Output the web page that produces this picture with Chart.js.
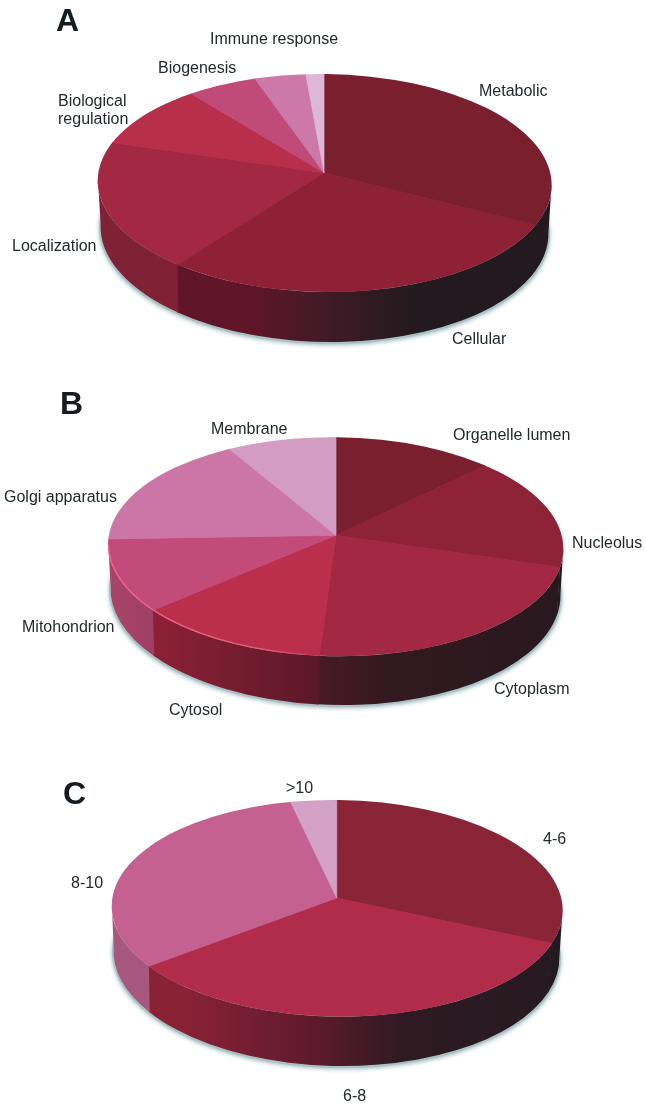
<!DOCTYPE html>
<html>
<head>
<meta charset="utf-8">
<title>Pie charts A, B, C</title>
<script src="https://cdn.jsdelivr.net/npm/chart.js@4/dist/chart.umd.min.js"></script>
<style>
  html, body { margin: 0; padding: 0; background: #fff; }
  body { width: 646px; height: 1109px; overflow: hidden; }
  .panel { position: absolute; left: 0; width: 646px; }
</style>
</head>
<body>
<div class="panel" style="top:0;height:385px"><canvas id="pieA"></canvas></div>
<div class="panel" style="top:385px;height:375px"><canvas id="pieB"></canvas></div>
<div class="panel" style="top:760px;height:349px"><canvas id="pieC"></canvas></div>
<script>
/* ---------- Data (percent of each pie) ---------- */
const categoriesA = ['Metabolic', 'Cellular', 'Localization', 'Biological regulation', 'Biogenesis', 'Immune response', 'Other'];
const valuesA = [32.6, 27.8, 19.2, 9.6, 5.4, 4.0, 1.4];
const colorsA = ['#7a1f2e', '#8e2136', '#a32843', '#b82f4c', '#c04a78', '#cc78a8', '#dcb8d6'];

const categoriesB = ['Organelle lumen', 'Nucleolus', 'Cytoplasm', 'Cytosol', 'Mitohondrion', 'Golgi apparatus', 'Membrane'];
const valuesB = [12.7, 16.9, 21.4, 12.7, 10.7, 17.0, 8.5];
const colorsB = ['#7a1f2d', '#8e2237', '#a32843', '#b92f4c', '#c34b7a', '#cb76a6', '#d39cc4'];

const categoriesC = ['4-6', '6-8', '8-10', '>10'];
const valuesC = [31.6, 33.1, 31.7, 3.6];
const colorsC = ['#8a2437', '#b02c4a', '#c46190', '#d3a0c6'];

/* ---------- Layout and style of each panel, in page pixels ---------- */
const FONT = '"Liberation Sans", Arial, sans-serif';
const DARK = '#221a1e';
const k = 0.48;            // vertical squash of the pie
const drawRadius = 270;    // pie is drawn bigger and clipped to the rim ellipse
const rimTilt = 0.012;     // the ellipses lean a little, right side lower
const baseTilt = 0.02;

const panelA = {
  top: 0, letter: 'A', letterX: 56, letterY: 31,
  apex: [324, 172.7],
  rim: { cx: 324.7, cy: 183, a: 227, b: 109 },
  base: { cx: 324.5, cy: 230, a: 224, b: 112 },
  wall: [
    [[0, DARK]],
    [[0.33, '#601529'], [0.5, '#421a27'], [0.7, DARK], [1, DARK]],
    [[0, '#7f2236'], [0.34, '#801f33']],
    [[0, '#7f2236']], [[0, '#7f2236']], [[0, '#7f2236']], [[0, '#7f2236']]
  ],
  texts: [
    ['Immune response', 210, 39.5], ['Biogenesis', 158, 68.5], ['Biological', 58, 101.5],
    ['regulation', 58, 119.5], ['Localization', 12, 246.5], ['Metabolic', 479, 91.5], ['Cellular', 452, 339.5]
  ]
};

const panelB = {
  top: 385, letter: 'B', letterX: 60, letterY: 414,
  apex: [336, 535.3],
  rim: { cx: 335.7, cy: 546.7, a: 227.7, b: 109.5 },
  base: { cx: 335.5, cy: 592, a: 225, b: 113 },
  highlight: true,
  wall: [
    [[0, DARK]],
    [[0, DARK]],
    [[0.46, '#4a1a28'], [0.62, '#32191f'], [1, '#28191f']],
    [[0.1, '#8d2136'], [0.47, '#5a1828']],
    [[0, '#a84468'], [0.1, '#a04066']],
    [[0, '#a84468']], [[0, '#a84468']]
  ],
  texts: [
    ['Membrane', 211, 429.5], ['Golgi apparatus', 4, 497.5], ['Mitohondrion', 22, 627.5], ['Cytosol', 169, 710.5],
    ['Organelle lumen', 453, 435.5], ['Nucleolus', 572, 543.5], ['Cytoplasm', 494, 689.5]
  ]
};

const panelC = {
  top: 760, letter: 'C', letterX: 63, letterY: 804,
  apex: [336.7, 898],
  rim: { cx: 337.2, cy: 908.3, a: 225.5, b: 108.3 },
  base: { cx: 336.5, cy: 954, a: 223, b: 112 },
  wall: [
    [[0, DARK]],
    [[0.16, '#8a2236'], [0.47, '#5a1a2c'], [0.65, '#2e1a22'], [1, '#261a20']],
    [[0, '#a8587f']],
    [[0, '#a8587f']]
  ],
  texts: [['>10', 286, 788.5], ['8-10', 71, 883.5], ['4-6', 543, 839.5], ['6-8', 343, 1096.5]]
};

/* ---------- Where a ray from the apex meets the rim, as an ellipse angle ---------- */
function rimAngle(panel, theta) {
  const { rim, apex } = panel;
  const cos = Math.cos(rimTilt), sin = Math.sin(rimTilt);
  const rx = Math.cos(theta), ry = k * Math.sin(theta);
  const ax = apex[0] - rim.cx, ay = apex[1] - rim.cy;
  // into the leaning ellipse's own frame
  const dx = (rx * cos + ry * sin) / rim.a, dy = (ry * cos - rx * sin) / rim.b;
  const px = (ax * cos + ay * sin) / rim.a, py = (ay * cos - ax * sin) / rim.b;
  const A = dx * dx + dy * dy, B = 2 * (px * dx + py * dy), C = px * px + py * py - 1;
  const t = (-B + Math.sqrt(B * B - 4 * A * C)) / (2 * A);
  return Math.atan2(py + t * dy, px + t * dx);
}

function drawWalls(ctx, panel, arcs) {
  const { rim, base } = panel;
  // soft grey-blue edge under the pie
  ctx.save();
  ctx.shadowColor = 'rgba(130,165,170,0.8)';
  ctx.shadowBlur = 4;
  ctx.shadowOffsetY = 1;
  ctx.fillStyle = '#a9c1c4';
  ctx.beginPath();
  ctx.ellipse(base.cx, base.cy + 1, base.a + 1.5, base.b + 1, baseTilt, 0, Math.PI * 2);
  ctx.fill();
  ctx.restore();

  arcs.forEach((arc, i) => {
    let from = rimAngle(panel, arc.startAngle);
    let to = rimAngle(panel, arc.endAngle);
    if (to <= from) to += Math.PI * 2;
    from = Math.max(from, -0.02);
    to = Math.min(to + 0.008, Math.PI + 0.02);   // small overlap so no seam shows
    if (to <= from) return;
    const grad = ctx.createLinearGradient(rim.cx - rim.a, 0, rim.cx + rim.a, 0);
    panel.wall[i].forEach(s => grad.addColorStop(s[0], s[1]));
    ctx.fillStyle = grad;
    ctx.beginPath();
    ctx.ellipse(rim.cx, rim.cy, rim.a, rim.b, rimTilt, from, to);
    ctx.ellipse(base.cx, base.cy, base.a, base.b, baseTilt, to, from, true);
    ctx.closePath();
    ctx.fill();
  });
}

/* ---------- Plugin: walls, squash and clip around the library's own arcs ---------- */
const pie3d = {
  id: 'pie3d',
  beforeDatasetsDraw(chart, args, opts) {
    const panel = opts.panel;
    const ctx = chart.ctx;
    const arcs = chart.getDatasetMeta(0).data;
    ctx.save();
    ctx.translate(0, -panel.top);
    drawWalls(ctx, panel, arcs);
    ctx.beginPath();
    ctx.ellipse(panel.rim.cx, panel.rim.cy, panel.rim.a, panel.rim.b, rimTilt, 0, Math.PI * 2);
    ctx.clip();
    ctx.translate(panel.apex[0], panel.apex[1]);
    ctx.scale(1, k);
    ctx.translate(-arcs[0].x, -arcs[0].y);
  },
  afterDatasetsDraw(chart, args, opts) {
    const panel = opts.panel;
    const ctx = chart.ctx;
    ctx.restore();
    ctx.save();
    ctx.translate(0, -panel.top);
    if (panel.highlight) {
      const { rim } = panel;
      const grad = ctx.createLinearGradient(rim.cx - rim.a, 0, rim.cx, 0);
      grad.addColorStop(0, '#ec6488');
      grad.addColorStop(0.7, '#ea5a78');
      grad.addColorStop(1, 'rgba(200,50,80,0)');
      ctx.strokeStyle = grad;
      ctx.lineWidth = 1.5;
      ctx.beginPath();
      ctx.ellipse(rim.cx, rim.cy, rim.a - 0.5, rim.b - 0.5, rimTilt, Math.PI * 0.53, Math.PI);
      ctx.stroke();
    }
    ctx.fillStyle = '#222a2c';
    ctx.textBaseline = 'middle';
    ctx.font = '16px ' + FONT;
    panel.texts.forEach(t => ctx.fillText(t[0], t[1], t[2]));
    ctx.textBaseline = 'alphabetic';
    ctx.fillStyle = '#151c20';
    ctx.font = 'bold 32px ' + FONT;
    ctx.fillText(panel.letter, panel.letterX, panel.letterY);
    ctx.restore();
  }
};

function makePie(id, categories, values, colors, panel) {
  return new Chart(document.getElementById(id), {
    type: 'pie',
    data: {
      labels: categories,
      datasets: [{
        data: values,
        backgroundColor: colors,
        borderColor: colors,
        borderWidth: 1,
        radius: drawRadius,
        clip: false
      }]
    },
    options: {
      responsive: true,
      maintainAspectRatio: false,
      animation: false,
      events: [],
      plugins: { legend: { display: false }, tooltip: { enabled: false }, pie3d: { panel } }
    },
    plugins: [pie3d]
  });
}

makePie('pieA', categoriesA, valuesA, colorsA, panelA);
makePie('pieB', categoriesB, valuesB, colorsB, panelB);
makePie('pieC', categoriesC, valuesC, colorsC, panelC);
</script>
</body>
</html>
